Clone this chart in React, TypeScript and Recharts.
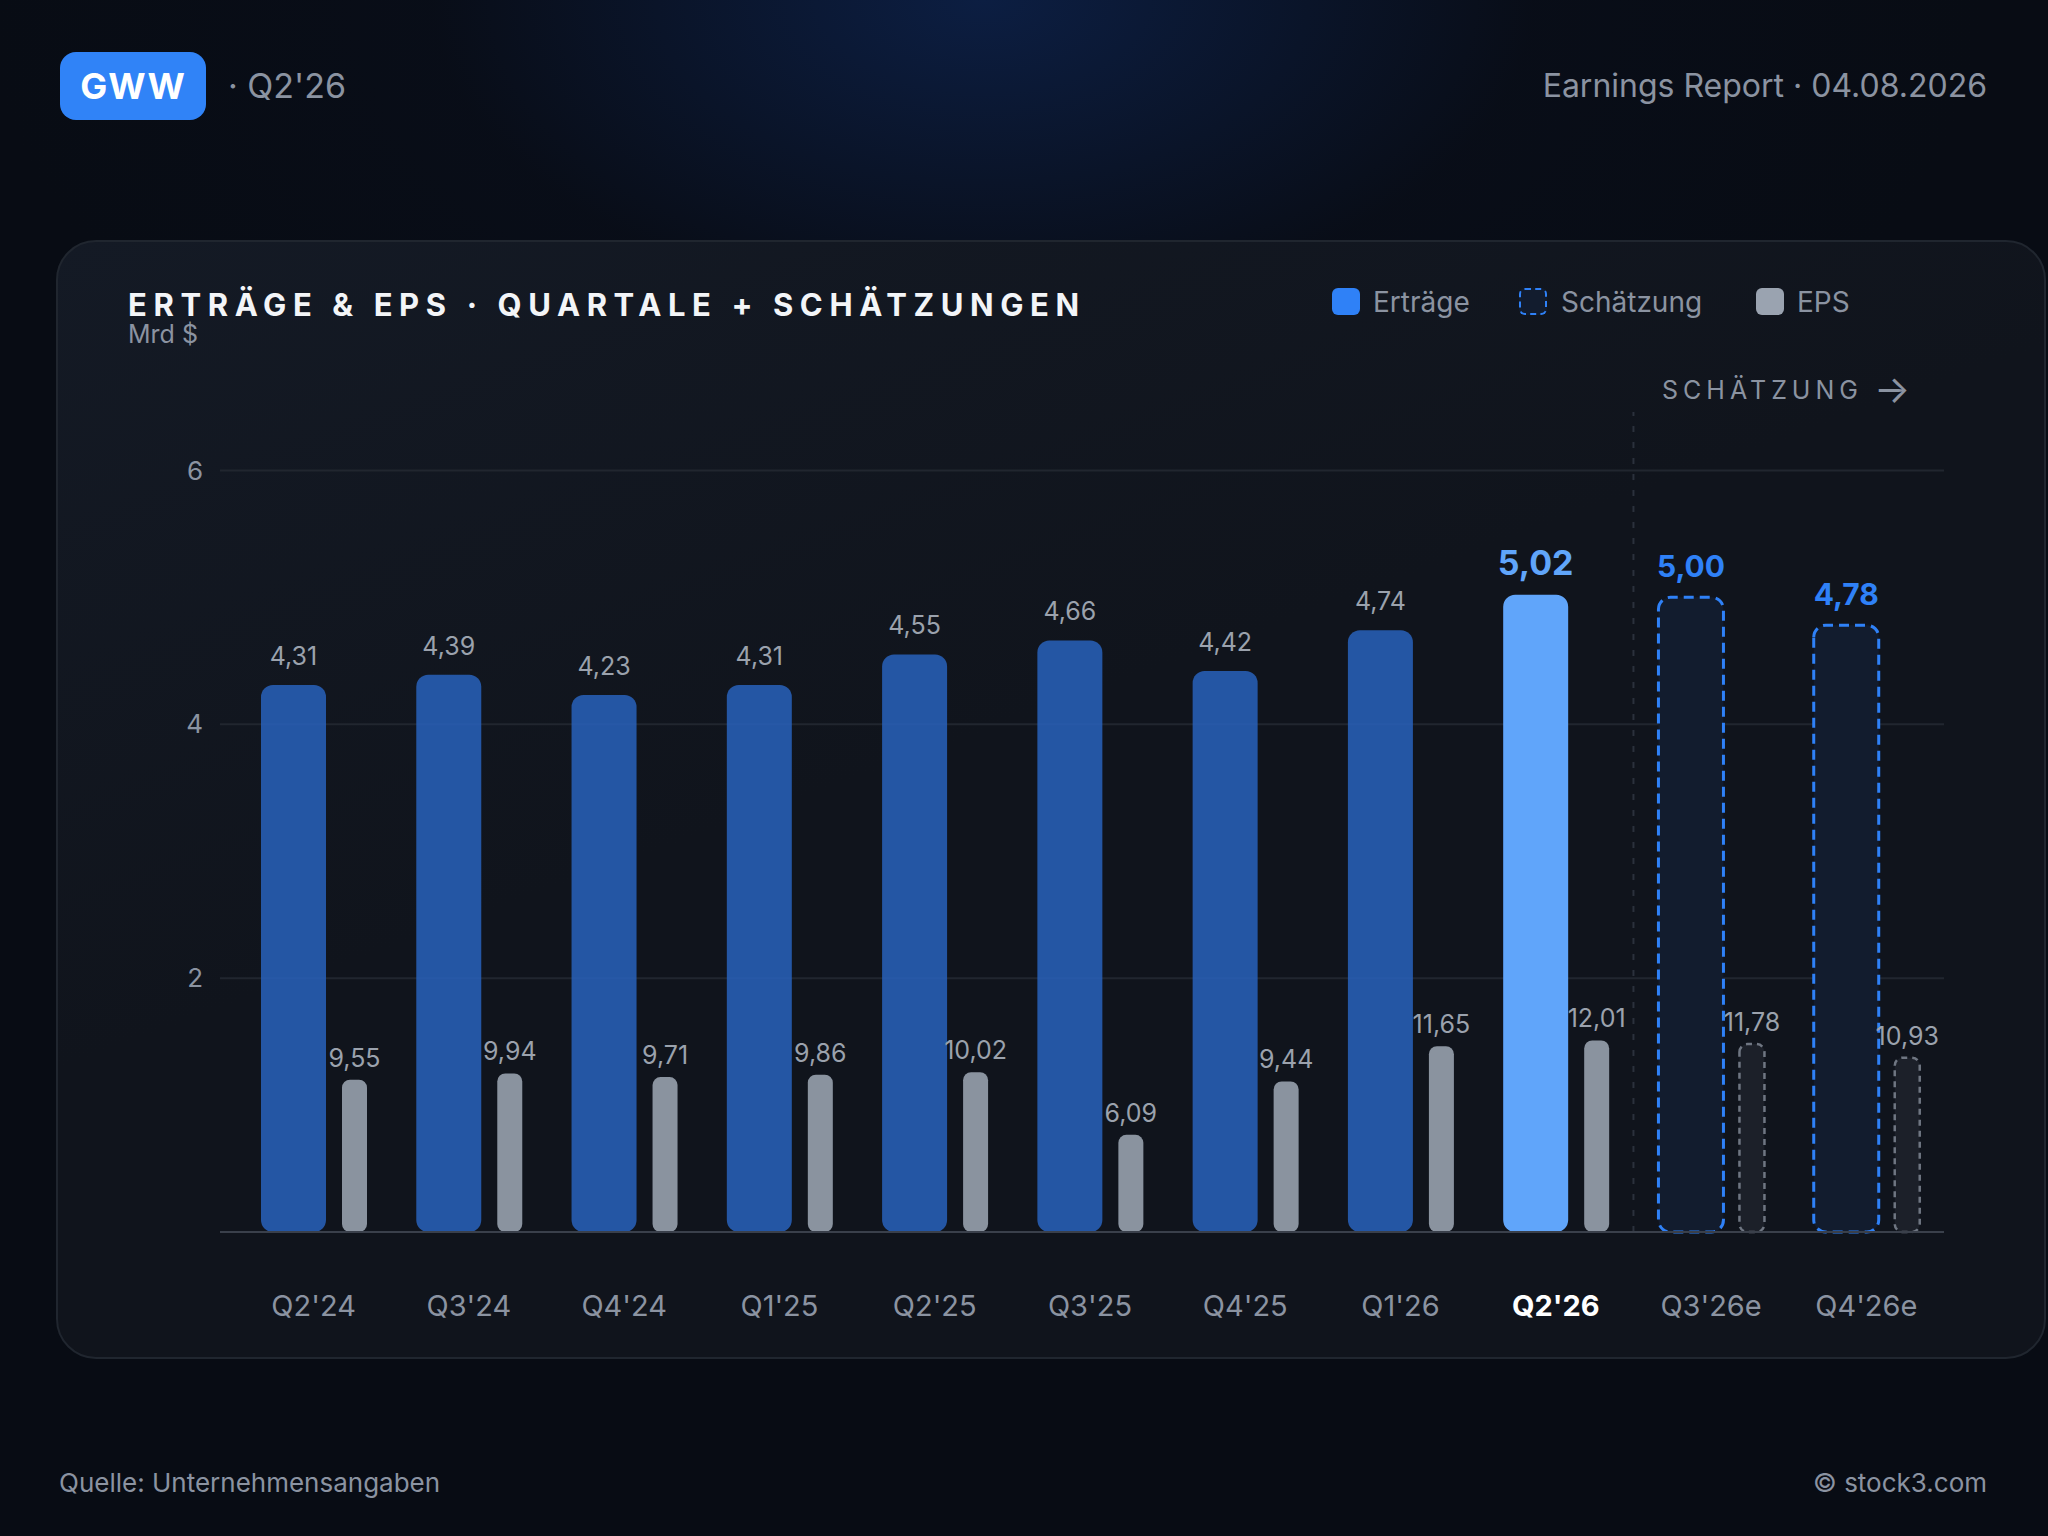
import React from "react";
import {
  Bar,
  CartesianGrid,
  ComposedChart,
  LabelList,
  Rectangle,
  ReferenceLine,
  XAxis,
  YAxis,
} from "recharts";

const QUARTERS = ["Q2'24", "Q3'24", "Q4'24", "Q1'25", "Q2'25", "Q3'25", "Q4'25", "Q1'26", "Q2'26", "Q3'26e", "Q4'26e"];
const REVENUE = [4.31, 4.39, 4.23, 4.31, 4.55, 4.66, 4.42, 4.74, 5.02, 5.0, 4.78];
const EPS = [9.55, 9.94, 9.71, 9.86, 10.02, 6.09, 9.44, 11.65, 12.01, 11.78, 10.93];
const IS_ESTIMATE = [false, false, false, false, false, false, false, false, false, true, true];
const CURRENT = "Q2'26";
const FIRST_ESTIMATE = "Q3'26e";
const REV_TICKS = [0, 2, 4, 6];
const REV_DOMAIN = [0, 6.46];
const EPS_DOMAIN = [0, 51.4];

const rows = QUARTERS.map((q, i) => ({ quarter: q, revenue: REVENUE[i], eps: EPS[i], estimate: IS_ESTIMATE[i] }));

const FONT = "Inter, 'Noto Sans', sans-serif";
const MUTED = "#8b93a1";
const LABEL = "#9ba2ad";
const BLUE = "#2f81f7";
const BAR = "#2862bc";
const BAR_HI = "#60a5fa";
const EST_FILL = "#121c2e";
const EPS_BAR = "#8a939f";
const EPS_EST_FILL = "#1c2029";
const EPS_EST_STROKE = "#6f7682";
const GRID = "#21262f";
const AXIS_LINE = "#3a404b";
const DIVIDER = "#2b313c";

const fmt = (v: number) => v.toFixed(2).replace(".", ",");

function idxOf(props: any) {
  if (props.payload && props.payload.quarter) return QUARTERS.indexOf(props.payload.quarter);
  return props.index ?? 0;
}

function RevenueShape(props: any) {
  const { x, y, width, height } = props;
  const i = idxOf(props);
  if (IS_ESTIMATE[i]) {
    return (
      <Rectangle x={x} y={y} width={width} height={height} radius={12} fill={EST_FILL} stroke={BLUE} strokeWidth={3} strokeDasharray="10 6" />
    );
  }
  if (QUARTERS[i] === CURRENT) {
    return <Rectangle x={x} y={y} width={width} height={height} radius={12} fill={BAR_HI} />;
  }
  return <Rectangle x={x} y={y} width={width} height={height} radius={12} fill={BAR} fillOpacity={0.85} />;
}

function EpsShape(props: any) {
  const { x, y, width, height } = props;
  const i = idxOf(props);
  if (IS_ESTIMATE[i]) {
    return (
      <Rectangle x={x} y={y} width={width} height={height} radius={8} fill={EPS_EST_FILL} stroke={EPS_EST_STROKE} strokeWidth={2.5} strokeDasharray="6 5" />
    );
  }
  return <Rectangle x={x} y={y} width={width} height={height} radius={8} fill={EPS_BAR} />;
}

function RevenueLabel(props: any) {
  const { x, y, width, value } = props;
  const i = props.index ?? REVENUE.indexOf(value);
  const cx = x + width / 2;
  if (QUARTERS[i] === CURRENT) {
    return (
      <text x={cx} y={y - 20} textAnchor="middle" fill={BAR_HI} fontSize={34} fontWeight={700}>
        {fmt(value)}
      </text>
    );
  }
  if (IS_ESTIMATE[i]) {
    return (
      <text x={cx} y={y - 20} textAnchor="middle" fill={BLUE} fontSize={30} fontWeight={700}>
        {fmt(value)}
      </text>
    );
  }
  return (
    <text x={cx} y={y - 20} textAnchor="middle" fill={LABEL} fontSize={25}>
      {fmt(value)}
    </text>
  );
}

function EpsLabel(props: any) {
  const { x, y, width, value } = props;
  return (
    <text x={x + width / 2} y={y - 13} textAnchor="middle" fill={LABEL} fontSize={25}>
      {fmt(value)}
    </text>
  );
}

function QuarterTick(props: any) {
  const { x, y, payload } = props;
  const hi = payload.value === CURRENT;
  return (
    <text x={x} y={y + 84} textAnchor="middle" fill={hi ? "#ffffff" : MUTED} fontSize={29} fontWeight={hi ? 700 : 400}>
      {payload.value}
    </text>
  );
}

function Swatch({ left, kind }: { left: number; kind: "rev" | "est" | "eps" }) {
  const base: React.CSSProperties = {
    position: "absolute",
    left,
    top: 288,
    width: 28,
    height: 27,
    borderRadius: 6,
    boxSizing: "border-box",
  };
  if (kind === "rev") return <div style={{ ...base, background: BLUE }} />;
  if (kind === "est") return <div style={{ ...base, background: EST_FILL, border: `2.5px dashed ${BLUE}` }} />;
  return <div style={{ ...base, background: "#9aa3b0" }} />;
}

function Txt({
  left,
  right,
  baseline,
  size,
  color,
  weight,
  spacing,
  children,
}: {
  left?: number;
  right?: number;
  baseline: number;
  size: number;
  color: string;
  weight?: number;
  spacing?: number;
  children: React.ReactNode;
}) {
  return (
    <div
      style={{
        position: "absolute",
        left,
        right,
        top: baseline - 0.8635 * size,
        fontSize: size,
        lineHeight: `${size}px`,
        color,
        fontWeight: weight ?? 400,
        letterSpacing: spacing ?? 0,
        whiteSpace: "nowrap",
      }}
    >
      {children}
    </div>
  );
}

export default function App() {
  return (
    <div
      style={{
        position: "absolute",
        left: 0,
        top: 0,
        width: 2048,
        height: 1536,
        overflow: "hidden",
        fontFamily: FONT,
        background:
          "radial-gradient(ellipse 1000px 560px at 48% 0%, #0c1e42 0%, rgba(9,14,26,0.6) 55%, rgba(8,12,20,0) 100%), #080c14",
      }}
    >
      {/* header */}
      <div
        style={{
          position: "absolute",
          left: 60,
          top: 52,
          width: 146,
          height: 68,
          borderRadius: 16,
          background: "#3083f7",
          color: "#fff",
          fontWeight: 700,
          fontSize: 36,
          letterSpacing: 1,
          display: "flex",
          alignItems: "center",
          justifyContent: "center",
        }}
      >
        GWW
      </div>
      <Txt left={228} baseline={98} size={34} color={MUTED}>
        · Q2'26
      </Txt>
      <Txt right={61} baseline={98} size={32} color={MUTED}>
        Earnings Report · 04.08.2026
      </Txt>

      {/* card */}
      <div
        style={{
          position: "absolute",
          left: 56,
          top: 240,
          width: 1990,
          height: 1119,
          borderRadius: 40,
          border: "2px solid #20262f",
          boxSizing: "border-box",
          background: "linear-gradient(160deg, #141a25 0%, #10141c 45%, #10141c 100%)",
        }}
      />
      <Txt left={128} baseline={316} size={31} color="#f3f5f8" weight={700} spacing={6.6}>
        ERTRÄGE &amp; EPS · QUARTALE + SCHÄTZUNGEN
      </Txt>
      <Txt left={128} baseline={344} size={25} color={MUTED}>
        Mrd $
      </Txt>

      {/* legend */}
      <Swatch left={1332} kind="rev" />
      <Txt left={1373} baseline={312} size={28} color={MUTED}>
        Erträge
      </Txt>
      <Swatch left={1519} kind="est" />
      <Txt left={1561} baseline={312} size={28} color={MUTED}>
        Schätzung
      </Txt>
      <Swatch left={1756} kind="eps" />
      <Txt left={1797} baseline={312} size={28} color={MUTED}>
        EPS
      </Txt>

      <Txt left={1662} baseline={400} size={25} color={MUTED} spacing={5}>
        SCHÄTZUNG
      </Txt>
      <Txt left={1874} baseline={403} size={38} color={MUTED}>
        →
      </Txt>

      {/* chart */}
      <div style={{ position: "absolute", left: 0, top: 0 }}>
        <ComposedChart
          width={2048}
          height={1400}
          data={rows}
          margin={{ top: 412, right: 104, bottom: 68, left: 160 }}
          barGap={16}
        >
          <CartesianGrid vertical={false} stroke={GRID} strokeWidth={2} syncWithTicks />
          <XAxis
            dataKey="quarter"
            interval={0}
            height={100}
            padding={{ left: 16, right: 0 }}
            axisLine={{ stroke: AXIS_LINE, strokeWidth: 2 }}
            tickLine={false}
            tickSize={0}
            tickMargin={0}
            tick={(p: any) => <QuarterTick {...p} />}
          />
          <YAxis
            domain={REV_DOMAIN}
            ticks={REV_TICKS}
            width={60}
            axisLine={false}
            tickLine={false}
            tickSize={0}
            tickMargin={17}
            tick={{ fill: MUTED, fontSize: 26 }}
            tickFormatter={(v: number) => (v === 0 ? "" : String(v))}
          />
          <YAxis yAxisId="eps" orientation="right" domain={EPS_DOMAIN} hide />
          <ReferenceLine x={FIRST_ESTIMATE} position="start" stroke={DIVIDER} strokeWidth={2} strokeDasharray="6 10" />
          <Bar dataKey="revenue" barSize={65} shape={RevenueShape} isAnimationActive={false}>
            <LabelList dataKey="revenue" content={RevenueLabel} />
          </Bar>
          <Bar dataKey="eps" yAxisId="eps" barSize={25} shape={EpsShape} isAnimationActive={false}>
            <LabelList dataKey="eps" content={EpsLabel} />
          </Bar>
        </ComposedChart>
      </div>

      {/* footer */}
      <Txt left={59} baseline={1492} size={26} color={MUTED}>
        Quelle: Unternehmensangaben
      </Txt>
      <Txt right={61} baseline={1492} size={26} color={MUTED}>
        © stock3.com
      </Txt>
    </div>
  );
}
